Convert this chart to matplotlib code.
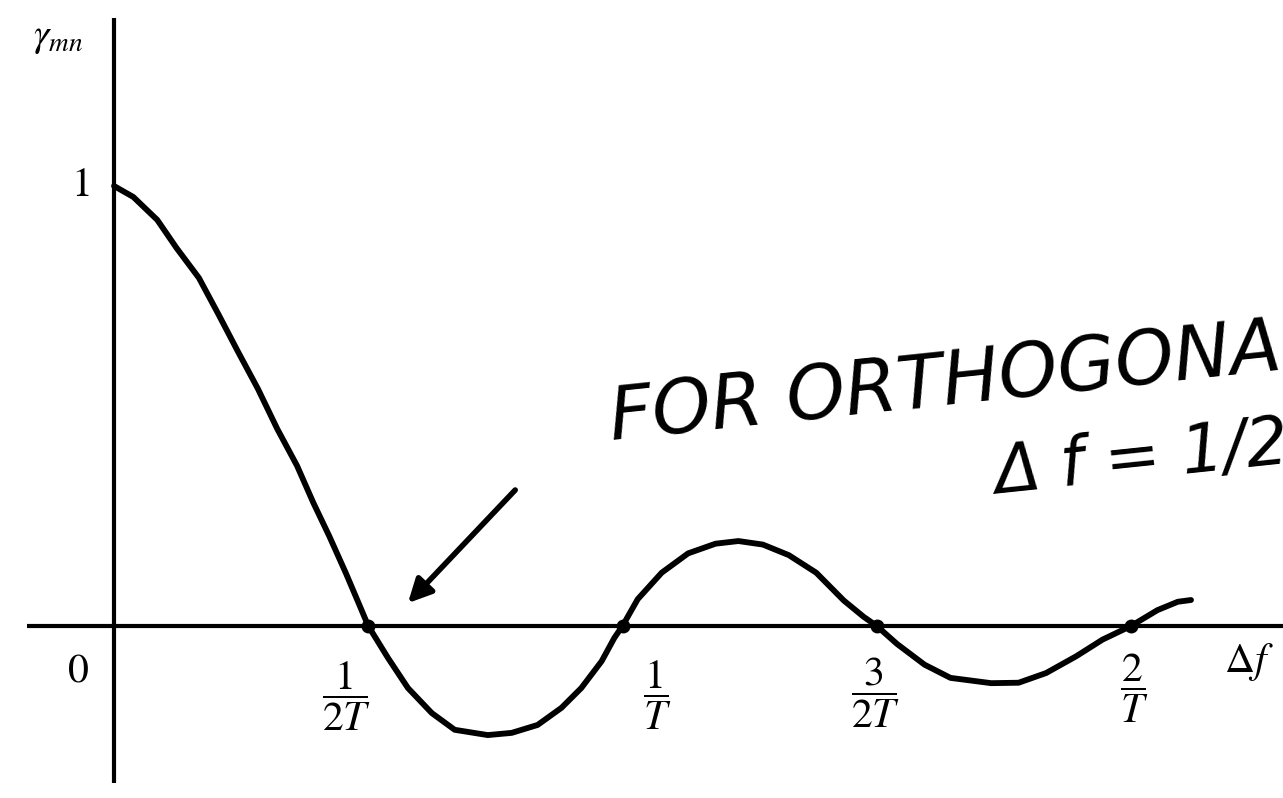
import matplotlib
matplotlib.use("Agg")
import matplotlib.pyplot as plt

# normalised correlation of two tones vs. frequency spacing (df in units of 1/T)
df = [0.0, 0.038, 0.085, 0.123, 0.167, 0.206, 0.244, 0.283, 0.321, 0.360,
      0.392, 0.423, 0.456, 0.481, 0.5,
      0.539, 0.578, 0.625, 0.670, 0.735, 0.782, 0.833, 0.880, 0.919, 0.959,
      0.984, 1.0,
      1.030, 1.077, 1.129, 1.183, 1.228, 1.276, 1.327, 1.381, 1.435, 1.474,
      1.5,
      1.540, 1.594, 1.645, 1.725, 1.779, 1.833, 1.892, 1.944, 2.0,
      2.052, 2.092, 2.118]
gamma = [1.0, 0.975, 0.923, 0.859, 0.791, 0.707, 0.623, 0.539, 0.448, 0.364,
         0.280, 0.205, 0.120, 0.052, 0.0,
         -0.073, -0.141, -0.198, -0.236, -0.248, -0.243, -0.225, -0.186, -0.141,
         -0.080, -0.027, 0.0,
         0.061, 0.121, 0.165, 0.187, 0.193, 0.185, 0.161, 0.121, 0.058, 0.021,
         0.0,
         -0.041, -0.088, -0.118, -0.130, -0.129, -0.107, -0.069, -0.031, 0.0,
         0.036, 0.055, 0.059]

# zeros of the correlation -> orthogonal spacings
zeros_x = [0.5, 1.0, 1.5, 2.0]
zero_labels = [r"$\dfrac{1}{2T}$", r"$\dfrac{1}{T}$", r"$\dfrac{3}{2T}$", r"$\dfrac{2}{T}$"]
label_x = [0.458, 1.068, 1.498, 2.006]
label_y = [-0.161, -0.157, -0.152, -0.141]

plt.rcParams["mathtext.fontset"] = "stix"

fig = plt.figure(figsize=(12.83, 7.98), dpi=100)
ax = fig.add_axes([0, 0, 1, 1])
ax.set_xlim(-0.2242, 2.2989)
ax.set_ylim(-0.391, 1.4227)
ax.axis("off")

# axes drawn by hand
ax.plot([-0.171, 2.4], [0, 0], color="black", lw=3, solid_capstyle="butt")
ax.plot([0, 0], [-0.357, 1.382], color="black", lw=3, solid_capstyle="butt")

ax.plot(df, gamma, color="black", lw=4.2, solid_capstyle="round")
ax.plot(zeros_x, [0] * len(zeros_x), "o", color="black", ms=9)

ax.text(-0.11, 1.338, r"$\gamma_{mn}$", fontsize=28, ha="center", va="center")
ax.text(-0.067, 1.005, r"$1$", fontsize=30, ha="center", va="center")
ax.text(-0.071, -0.100, r"$0$", fontsize=30, ha="center", va="center")
for x, y, s in zip(label_x, label_y, zero_labels):
    ax.text(x, y, s, fontsize=30, ha="center", va="center")
ax.text(2.232, -0.082, r"$\Delta f$", fontsize=30, ha="center", va="center")

# handwritten note
note = dict(family="DejaVu Sans", style="italic",
            rotation=6, rotation_mode="anchor", ha="left", va="baseline")
ax.text(0.979, 0.423, "FOR ORTHOGONALITY", fontsize=54, **note)
ax.text(1.735, 0.300, "Δ f = 1/2T", fontsize=48, **note)

ax.annotate("", xy=(0.578, 0.052), xytext=(0.789, 0.309),
            arrowprops=dict(arrowstyle="-|>", lw=4, color="black",
                            mutation_scale=35, shrinkA=0, shrinkB=0))

fig.savefig("out.png", dpi=100)
